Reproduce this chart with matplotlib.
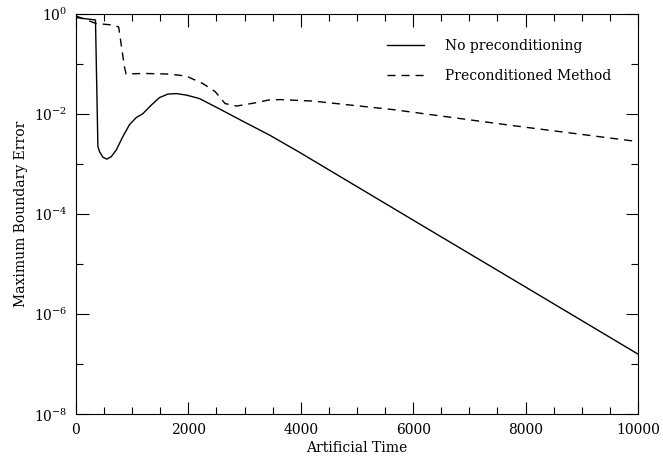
import matplotlib
matplotlib.use("Agg")
import matplotlib.pyplot as plt
from matplotlib.ticker import (FixedLocator, LogFormatterMathtext,
                               MultipleLocator, NullFormatter)

# solid curve: no preconditioning
t_plain = [0, 347, 390, 419, 477, 549, 627, 716, 834, 953, 1072, 1190, 1339,
           1487, 1635, 1784, 1963, 2199, 2614, 3000, 3446, 3986, 6000, 8000,
           10000]
err_plain = [8.51e-1, 7.59e-1, 2.24e-3, 1.78e-3, 1.38e-3, 1.26e-3, 1.41e-3,
             1.91e-3, 3.55e-3, 6.17e-3, 8.51e-3, 1.02e-2, 1.51e-2, 2.14e-2,
             2.51e-2, 2.57e-2, 2.40e-2, 2.04e-2, 1.17e-2, 6.9e-3, 3.8e-3,
             1.70e-3, 7.6e-5, 3.5e-6, 1.6e-7]

# dashed curve: preconditioned method
t_pre = [0, 356, 652, 759, 802, 861, 892, 1191, 1665, 1962, 2258, 2476, 2654,
         2862, 3218, 3426, 3630, 4217, 5641, 7843, 10000]
err_pre = [9.12e-1, 6.46e-1, 6.03e-1, 5.50e-1, 2.57e-1, 8.9e-2, 6.3e-2,
           6.5e-2, 6.3e-2, 5.75e-2, 4.07e-2, 2.82e-2, 1.62e-2, 1.45e-2,
           1.70e-2, 1.91e-2, 1.95e-2, 1.82e-2, 1.23e-2, 5.75e-3, 2.82e-3]

plt.rcParams['font.family'] = 'DejaVu Serif'
plt.rcParams['mathtext.fontset'] = 'dejavuserif'

fig = plt.figure(figsize=(6.63, 4.59), dpi=100)
ax = fig.add_axes([0.1146, 0.0972, 0.8477, 0.8723])

ax.plot(t_plain, err_plain, color='black', lw=1.0, label='No preconditioning')
ax.plot(t_pre, err_pre, color='black', lw=1.0, dashes=(5.8, 4.3),
        label='Preconditioned Method')

ax.set_yscale('log')
ax.set_xlim(0, 10000)
ax.set_ylim(1e-8, 1e0)
ax.xaxis.set_major_locator(MultipleLocator(2000))
ax.xaxis.set_minor_locator(MultipleLocator(500))
ax.yaxis.set_major_locator(FixedLocator([1e-8, 1e-6, 1e-4, 1e-2, 1e0]))
ax.yaxis.set_minor_locator(FixedLocator([1e-7, 1e-5, 1e-3, 1e-1]))
ax.yaxis.set_major_formatter(LogFormatterMathtext())
ax.yaxis.set_minor_formatter(NullFormatter())
ax.tick_params(which='both', direction='in', top=True, right=True,
               labelsize=10, width=0.8, pad=6)
ax.tick_params(which='major', length=9)
ax.tick_params(which='minor', length=5)
for s in ax.spines.values():
    s.set_linewidth(0.8)

ax.set_xlabel('Artificial Time', fontsize=10, labelpad=3)
ax.set_ylabel('Maximum Boundary Error', fontsize=10, labelpad=4)

ax.legend(loc='upper left', bbox_to_anchor=(0.531, 0.97), frameon=False,
          fontsize=10, handlelength=2.7, handletextpad=1.5, labelspacing=1.19)

fig.savefig('out.png', dpi=100)
